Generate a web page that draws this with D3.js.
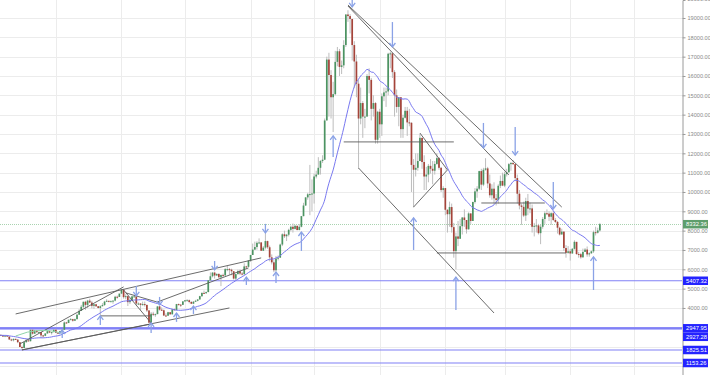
<!DOCTYPE html>
<html>
<head>
<meta charset="utf-8">
<script src="https://cdn.jsdelivr.net/npm/d3@7"></script>
<style>
  body { margin: 0; background: #fff; }
  svg { display: block; font-family: "Liberation Sans", Arial, sans-serif; }
</style>
</head>
<body>
<div id="chart"></div>
<script>
// Daily candles, first day 2017-06-16 (the first weeks only feed the moving average)
const startDay = "2017-06-16";
const firstOpen = 2450;

const closes = [
  // Jun 16-30
  2500,2650,2520,2610,2760,2680,2710,2700,2590,2560,2440,2590,2580,2550,2480,
  // Jul
  2420,2500,2560,2600,2610,2600,2520,2570,2520,2370,2330,2400,2360,2230,1980,1930,2230,2320,2280,2870,2670,2830,2750,2760,2580,2560,2680,2800,2730,2750,2870,
  // Aug
  2720,2700,2810,2870,3250,3220,3390,3420,3340,3420,3650,3850,4060,4320,4160,4380,4280,4110,4190,4090,4000,4090,4150,4330,4370,4350,4350,4380,4580,4570,4740,
  // Sep
  4950,4560,4610,4300,4420,4600,4600,4230,4230,4160,4200,4160,3870,3240,3700,3680,3680,4080,3910,3880,3610,3600,3780,3670,3930,3890,4200,4170,4160,4340,
  // Oct
  4400,4400,4310,4220,4320,4370,4440,4610,4780,4760,4820,5430,5640,5830,5680,5760,5590,5710,5680,6010,6010,5980,5900,5520,5750,5900,5780,5750,6150,6130,6450,
  // Nov
  6740,7020,7150,7370,7390,6960,7120,7460,7140,6620,6360,5950,6560,6600,7280,7810,7710,7790,8040,8200,8090,8250,8030,8200,8750,9300,9720,9880,9890,9920,
  // Dec
  10800,10900,11250,11600,11670,13700,16850,16050,14900,15060,16730,17280,16470,16550,17600,19180,19100,18950,17600,16750,15600,13800,14600,13900,13900,16000,15800,14300,14600,12700,14150,
  // Jan
  13500,14950,15150,15200,17150,17170,16200,15000,14400,14900,13250,13840,14200,13600,13580,11400,11150,11250,11600,12800,11550,10800,10900,11350,11200,11100,11450,11750,11250,10100,10200,
  // Feb
  9080,8850,9220,8180,6940,7700,7580,8230,8680,8550,8070,8890,8500,9480,10030,10170,11080,10380,11150,11220,10440,9830,10170,9670,9590,10320,10570,10330,
  // Mar
  10920,11020,11440,11500,11440,10720,9910,9300,9230,8780,9530,9140,9150,8200,8250,8270,7870,8200,8600,8900,8880,8720,8900,8550,8450,8150,7800,7950,7100,6850,6930,
  // Apr 1-15
  6820,7060,7420,6790,6780,6620,6900,7020,6770,6830,6930,7920,7890,8010,8332.36
];

const highs = [
  2540,2680,2660,2630,2770,2800,2730,2740,2710,2630,2580,2600,2600,2590,2560,
  2500,2510,2590,2620,2630,2620,2610,2580,2580,2540,2410,2420,2420,2390,2230,2050,2240,2400,2400,2900,2870,2870,2850,2780,2760,2610,2700,2850,2800,2760,2900,
  2920,2750,2820,2890,3300,3280,3400,3480,3440,3450,3700,3940,4160,4330,4370,4420,4480,4370,4200,4210,4100,4130,4250,4370,4450,4370,4390,4390,4630,4640,4750,
  4960,4980,4710,4610,4520,4640,4650,4670,4290,4250,4330,4330,4160,3890,3790,3800,3710,4090,4100,4030,3920,3720,3800,3780,3950,3970,4210,4230,4200,4360,
  4410,4460,4440,4350,4360,4420,4460,4630,4800,4900,4850,5440,5840,5850,5880,5790,5790,5720,5780,6070,6190,6070,6030,5900,5770,5980,5990,5860,6310,6180,6470,
  6750,7330,7430,7450,7600,7410,7200,7880,7480,7230,6770,6470,6690,6720,7330,7860,8000,7830,8100,8260,8370,8300,8260,8340,8760,9440,9730,9950,11400,10650,
  10950,11100,11800,11650,11900,13800,17000,17200,16300,15700,17300,17500,17400,16800,17850,19200,19400,19200,18950,17800,17100,15800,15400,14700,14300,16100,16400,15900,15000,14650,14200,
  14300,15100,15400,15400,17200,17250,17200,16300,15300,14900,14900,14000,14400,14400,14300,13600,11700,12000,12000,13000,12800,11900,11300,11450,11700,11600,11600,12000,11800,11300,10300,
  10200,9100,9500,9400,8400,7900,8500,8600,8700,9100,8550,8950,8900,9500,10200,10300,11100,11200,11250,11750,11300,10900,10400,10500,9900,10400,10850,11000,
  11050,11200,11500,11550,11650,11440,10900,10100,9400,9500,9700,9900,9450,9350,8400,8600,8350,8300,8700,9000,9100,9000,8950,9000,8650,8500,8200,8100,7950,7250,7200,
  7050,7100,7500,7420,6900,6850,7070,7100,7180,6880,6970,8000,8200,8150,8400
];

const lows = [
  2380,2480,2500,2510,2600,2630,2620,2690,2550,2480,2320,2370,2500,2530,2470,
  2400,2410,2500,2560,2560,2590,2500,2490,2510,2340,2280,2270,2350,2180,1970,1830,1930,2200,2270,2270,2620,2660,2700,2700,2450,2470,2540,2670,2700,2620,2740,
  2700,2650,2690,2780,2870,3180,3220,3380,3290,3320,3410,3640,3850,4000,3900,4000,4250,3980,3950,4050,3970,3620,4080,4110,4320,4290,4340,4220,4340,4480,4570,
  4730,4480,4450,4100,4200,4410,4550,4130,4150,3880,4120,4070,3790,3220,3150,3580,3540,3680,3860,3850,3580,3550,3580,3660,3670,3880,3880,4130,4050,4150,
  4300,4380,4240,4200,4200,4320,4340,4430,4570,4730,4740,4820,5400,5580,5520,5650,5540,5130,5600,5680,5900,5720,5690,5470,5430,5730,5700,5680,5700,6030,6110,
  6380,6740,7000,7020,7300,6950,6950,7030,7060,6410,6250,5850,5880,6460,6600,7200,7620,7460,7700,7960,7900,8060,8020,8020,8170,8740,9280,9600,8800,9000,
  9400,10700,10900,10900,11500,11650,13700,13900,13800,13100,15000,16500,16000,16100,16400,17500,18800,18200,16800,15400,14900,11200,13500,12800,13300,13900,15100,13700,13900,12500,12500,
  12800,12900,14700,14400,15000,16400,15900,13900,14100,13400,12800,12800,13800,12900,13400,10000,9200,10800,11100,11600,11200,10100,10100,10500,10950,10400,10900,11400,11150,10000,9700,
  8800,7900,8200,7900,6600,6000,7200,7600,7800,8200,7850,8050,8350,8500,9400,9700,10100,10100,10300,11100,10200,9700,9600,9400,9300,9400,10200,10300,
  10250,10800,11000,11100,11400,10560,9400,9100,8300,8700,8500,8800,8900,7900,7700,7900,7800,7300,8100,8350,8800,8500,8300,8500,8400,7850,7750,7800,6950,6600,6800,
  6450,6800,7020,6750,6600,6550,6600,6900,6650,6650,6800,6850,7750,7850,7950
];

const maPeriod = 20;
const priceTicks = d3.range(1000, 20001, 1000);

// horizontal levels drawn across the chart, with their right-hand labels
const levels = [5407.32, 2947.95, 2927.28, 1825.51, 1153.26];
const levelStrong = [false, true, false, false, false];
const lastPrice = 8332.36;

// hand-drawn trend lines: [date, price] -> [date, price]
const trendLines = [
  [["2017-12-17", 19670], ["2018-03-28", 9220]],
  [["2017-12-17", 19620], ["2018-03-03", 10880]],
  [["2017-12-22", 11240], ["2018-02-24", 3740]],
  [["2017-12-15", 12590], ["2018-02-05", 12590]],
  [["2018-01-20", 13050], ["2018-02-02", 11140]],
  [["2018-01-17", 9220], ["2018-02-02", 11140]],
  [["2018-02-18", 9430], ["2018-03-20", 9430]],
  [["2018-01-28", 6845], ["2018-03-30", 6845]],
  [["2017-07-13", 3690], ["2017-11-06", 6590]],
  [["2017-07-15", 2140], ["2017-09-02", 5090]],
  [["2017-07-16", 1830], ["2017-10-22", 4000]],
  [["2017-07-16", 1830], ["2017-09-15", 3170]],
  [["2017-08-22", 3590], ["2017-09-15", 3590]],
  [["2017-09-02", 4930], ["2017-09-15", 3220]],
  [["2017-09-03", 4780], ["2017-09-19", 4270]],
  [["2017-09-18", 4310], ["2017-10-31", 6070]]
];

// small green arc: start, control, end
const arc = [["2017-07-13", 2550], ["2017-07-24", 3050], ["2017-08-04", 2700]];

// arrows: [date, tail price, head price]
const arrows = [
  ["2017-08-04", 2450, 2860],
  ["2017-08-22", 3120, 3590],
  ["2017-09-08", 5140, 4620],
  ["2017-09-15", 2710, 3225],
  ["2017-09-19", 4570, 4160],
  ["2017-09-27", 3280, 3740],
  ["2017-10-05", 3690, 4100],
  ["2017-10-15", 6430, 5970],
  ["2017-10-30", 5190, 5600],
  ["2017-11-08", 8350, 7880],
  ["2017-11-13", 5290, 5860],
  ["2017-11-25", 6950, 7930],
  ["2017-12-10", 11810, 12900],
  ["2017-12-19", 20030, 19570],
  ["2018-01-07", 18790, 17500],
  ["2018-01-17", 7000, 8660],
  ["2018-02-19", 13570, 12280],
  ["2018-02-06", 3900, 5600],
  ["2018-03-06", 13360, 11910],
  ["2018-03-24", 10520, 9120],
  ["2018-04-12", 4930, 6640]
];

const W = 710, H = 375, plotRight = 682;
const parseDay = d3.timeParse("%Y-%m-%d");

const x = d3.scaleTime()
  .domain([new Date(2017, 6, 5, 14, 38), new Date(2018, 4, 23, 19, 25)])
  .range([0, plotRight]);
const y = d3.scaleLinear().domain([532, 19931]).range([H, 0]);

// open of a 24h market candle = previous close
const first = parseDay(startDay);
const candles = closes.map((c, i) => {
  const o = i === 0 ? firstOpen : closes[i - 1];
  return {
    date: d3.timeDay.offset(first, i),
    o: o, c: c,
    h: Math.max(highs[i], o, c),
    l: Math.min(lows[i], o, c)
  };
});

const ma = [];
candles.forEach((d, i) => {
  if (i >= maPeriod - 1) {
    ma.push({ date: d.date, v: d3.mean(closes.slice(i - maPeriod + 1, i + 1)) });
  }
});

const svg = d3.select("#chart").append("svg")
  .attr("width", W)
  .attr("height", H);

svg.append("defs").append("clipPath").attr("id", "plot")
  .append("rect").attr("x", 0).attr("y", 0).attr("width", plotRight).attr("height", H);

const plot = svg.append("g").attr("clip-path", "url(#plot)");

// grid
plot.append("g").selectAll("line")
  .data(priceTicks)
  .enter().append("line")
  .attr("x1", 0).attr("x2", plotRight)
  .attr("y1", d => Math.round(y(d)) + 0.5).attr("y2", d => Math.round(y(d)) + 0.5)
  .attr("stroke", "#ececec");

plot.append("g").selectAll("line")
  .data(x.ticks(d3.timeMonth.every(1)))
  .enter().append("line")
  .attr("x1", d => Math.round(x(d)) + 0.5).attr("x2", d => Math.round(x(d)) + 0.5)
  .attr("y1", 0).attr("y2", H)
  .attr("stroke", "#ececec");

// level lines
plot.append("g").selectAll("line")
  .data(levels)
  .enter().append("line")
  .attr("x1", 0).attr("x2", plotRight)
  .attr("y1", d => y(d)).attr("y2", d => y(d))
  .attr("stroke", (d, i) => levelStrong[i] ? "#2a2aff" : "#8080f6")
  .attr("stroke-width", (d, i) => levelStrong[i] ? 1.8 : 1.2);

// last price line
plot.append("line")
  .attr("x1", 0).attr("x2", plotRight)
  .attr("y1", Math.round(y(lastPrice)) + 0.5).attr("y2", Math.round(y(lastPrice)) + 0.5)
  .attr("stroke", "#a9d3b0")
  .attr("stroke-dasharray", "1,1");

// candles
const bw = 1.7;
const cg = plot.append("g");
cg.selectAll(".wick")
  .data(candles)
  .enter().append("line")
  .attr("class", "wick")
  .attr("x1", d => x(d.date)).attr("x2", d => x(d.date))
  .attr("y1", d => y(d.h)).attr("y2", d => y(d.l))
  .attr("stroke", "#bdbdbd")
  .attr("stroke-width", 1);

cg.selectAll(".body")
  .data(candles)
  .enter().append("rect")
  .attr("class", "body")
  .attr("x", d => x(d.date) - bw / 2)
  .attr("width", bw)
  .attr("y", d => y(Math.max(d.o, d.c)))
  .attr("height", d => Math.max(1, Math.abs(y(d.o) - y(d.c))))
  .attr("fill", d => d.c >= d.o ? "#4c9462" : "#a5443a");

// moving average
plot.append("path")
  .datum(ma)
  .attr("fill", "none")
  .attr("stroke", "#7878f0")
  .attr("stroke-width", 1)
  .attr("d", d3.line().x(d => x(d.date)).y(d => y(d.v)).curve(d3.curveMonotoneX));

// trend lines
plot.append("g").selectAll("line")
  .data(trendLines)
  .enter().append("line")
  .attr("x1", d => x(parseDay(d[0][0]))).attr("y1", d => y(d[0][1]))
  .attr("x2", d => x(parseDay(d[1][0]))).attr("y2", d => y(d[1][1]))
  .attr("stroke", "#5a5a5a")
  .attr("stroke-width", 0.9);

// arc
const ap = d3.path();
ap.moveTo(x(parseDay(arc[0][0])), y(arc[0][1]));
ap.quadraticCurveTo(x(parseDay(arc[1][0])), y(arc[1][1]), x(parseDay(arc[2][0])), y(arc[2][1]));
plot.append("path")
  .attr("d", ap.toString())
  .attr("fill", "none")
  .attr("stroke", "#8fd4aa")
  .attr("stroke-width", 1);

// arrows
const ag = plot.append("g")
  .attr("stroke", "#8aa2e6")
  .attr("stroke-width", 1.3)
  .attr("fill", "none");
arrows.forEach(a => {
  const ax = x(parseDay(a[0]));
  const yt = y(a[1]), yh = y(a[2]);
  const dir = yt > yh ? 1 : -1;
  ag.append("line").attr("x1", ax).attr("x2", ax).attr("y1", yt).attr("y2", yh);
  ag.append("path")
    .attr("d", `M${ax - 3},${yh + dir * 4}L${ax},${yh}L${ax + 3},${yh + dir * 4}`);
});

// price labels (placed first so the axis can skip tick texts they cover)
const labelH = 8.5;
let prevY = -100;
const levelLabels = levels.map((v, i) => ({ v: v, i: i, y: y(v) }))
  .sort((a, b) => a.y - b.y)
  .map(d => {
    let yy = d.y;
    if (yy < prevY + labelH) yy = prevY + labelH;
    prevY = yy;
    return Object.assign({}, d, { ly: yy });
  });
const coveredY = levelLabels.map(d => d.ly).concat([y(lastPrice)]);

// right axis
const axis = svg.append("g")
  .attr("transform", `translate(${plotRight + 0.5},0)`)
  .call(d3.axisRight(y).tickValues(priceTicks).tickFormat(d3.format(".2f")).tickSize(3).tickPadding(2));
axis.select(".domain").attr("stroke", "#9a9a9a");
axis.selectAll(".tick line").attr("stroke", "#9a9a9a");
axis.selectAll("text")
  .attr("fill", "#8a8a8a")
  .style("font-size", "5.6px")
  .style("font-family", "'Liberation Sans', Arial, sans-serif");
axis.selectAll(".tick")
  .filter(d => coveredY.some(cy => Math.abs(cy - y(d)) < 5))
  .select("text").remove();

const lg = svg.append("g");
lg.selectAll("rect")
  .data(levelLabels)
  .enter().append("rect")
  .attr("x", plotRight + 1).attr("width", 25)
  .attr("y", d => d.ly - labelH / 2).attr("height", labelH)
  .attr("fill", "#2424ff");
lg.selectAll("text")
  .data(levelLabels)
  .enter().append("text")
  .attr("x", plotRight + 4).attr("y", d => d.ly + 2)
  .attr("fill", "#fff")
  .style("font-size", "5.8px")
  .text(d => d3.format(".2f")(d.v));

svg.append("rect")
  .attr("x", plotRight + 1).attr("width", 25)
  .attr("y", y(lastPrice) - labelH / 2).attr("height", labelH)
  .attr("fill", "#5e9e6c");
svg.append("text")
  .attr("x", plotRight + 4).attr("y", y(lastPrice) + 2)
  .attr("fill", "#fff")
  .style("font-size", "5.8px")
  .text(d3.format(".2f")(lastPrice));
</script>
</body>
</html>
